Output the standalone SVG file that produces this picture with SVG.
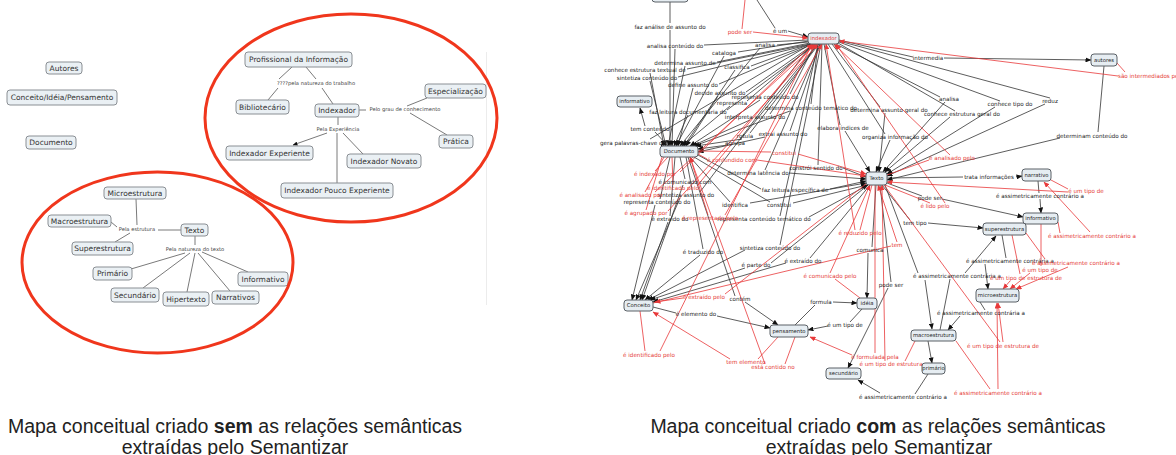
<svg xmlns="http://www.w3.org/2000/svg" width="1176" height="455" viewBox="0 0 1176 455">
<style>
  .bg { fill: #ffffff; }
  .nl rect { fill: #eaf0f4; stroke: #8a8f94; stroke-width: 1; }
  .nl text { font-family: "DejaVu Sans", Verdana, sans-serif; font-size: 7.5px; fill: #333; text-anchor: middle; }
  .nr rect { fill: #e6edf2; stroke: #5a6066; stroke-width: 1; }
  .nr text { font-family: "DejaVu Sans", Verdana, sans-serif; font-size: 5.3px; fill: #222; text-anchor: middle; }
  .nr text.red { fill: #e53935; }
  .ll { fill: none; stroke: #7a7a7a; stroke-width: 1; }
  .tl { font-family: "DejaVu Sans", Verdana, sans-serif; font-size: 5.2px; fill: #444; text-anchor: middle; }
  .lk { fill: none; stroke: #333; stroke-width: 0.8; marker-end: url(#ak); }
  .lr { fill: none; stroke: #e8393a; stroke-width: 0.8; marker-end: url(#ar); }
  .tk { font-family: "DejaVu Sans", Verdana, sans-serif; font-size: 5.6px; fill: #222; text-anchor: middle; }
  .tr { font-family: "DejaVu Sans", Verdana, sans-serif; font-size: 5.6px; fill: #e53935; text-anchor: middle; }
  .ring { fill: none; stroke: #f0361c; stroke-width: 3; }
  .cap { font-family: "Liberation Sans", Arial, sans-serif; font-size: 19.5px; fill: #222; text-anchor: middle; }
</style>
<defs>
  <marker id="ak" markerWidth="6" markerHeight="5" refX="5.5" refY="2.5" orient="auto" markerUnits="userSpaceOnUse">
    <path d="M0,0 L6,2.5 L0,5z" fill="#111"/>
  </marker>
  <marker id="ar" markerWidth="6" markerHeight="5" refX="5.5" refY="2.5" orient="auto" markerUnits="userSpaceOnUse">
    <path d="M0,0 L6,2.5 L0,5z" fill="#e8393a"/>
  </marker>
  <marker id="al" markerWidth="5" markerHeight="4" refX="4.5" refY="2" orient="auto" markerUnits="userSpaceOnUse">
    <path d="M0,0 L5,2 L0,4z" fill="#111"/>
  </marker>
</defs>
<rect class="bg" x="0" y="0" width="1176" height="455"/>

<!-- edge of the left map canvas -->
<line x1="486.5" y1="52" x2="486.5" y2="305" stroke="#ececec" stroke-width="1"/>

<!-- ===== Left map: connectors ===== -->
<g id="left-links">
  <path class="ll" d="M292,67 L279,79 M278,88 L268,100"/>
  <path class="ll" d="M306,67 L316,79 M322,88 L333,104"/>
  <path class="ll" d="M359,110 L366,110 M407,106 L427,98 M410,113 L447,135"/>
  <path class="ll" d="M338,117 L338,125 M337,133 L337,183 M343,133 L363,154"/>
  <path class="ll" d="M327,133 L293,145" marker-end="url(#al)"/>
  <path class="ll" d="M181,230 L158,230 M136,199 L137,225 M111,222 L117,227 M115,242 L130,233"/>
  <path class="ll" d="M195,236 L195,245 M185,253 L131,269 M190,253 L143,288 M195,253 L187,292 M198,253 L230,291 M202,252 L248,272"/>
  <text class="tl" x="316" y="85">????pela natureza do trabalho</text>
  <text class="tl" x="405" y="111">Pelo grau de conhecimento</text>
  <text class="tl" x="338" y="131">Pela Experiência</text>
  <text class="tl" x="137" y="231">Pela estrutura</text>
  <text class="tl" x="195" y="251">Pela natureza do texto</text>
</g>

<!-- ===== Left map: concepts ===== -->
<g id="l-autores" class="nl"><rect x="46" y="62" width="36" height="12" rx="3"/><text x="64" y="70.6">Autores</text></g>
<g id="l-conceito" class="nl"><rect x="7" y="90" width="110" height="15" rx="3"/><text x="62" y="100.1">Conceito/Idéia/Pensamento</text></g>
<g id="l-documento" class="nl"><rect x="26" y="136" width="50" height="13" rx="3"/><text x="51" y="145.1">Documento</text></g>
<g id="l-profissional" class="nl"><rect x="245" y="52" width="107" height="15" rx="3"/><text x="298.5" y="62.1">Profissional da Informação</text></g>
<g id="l-bibliotecario" class="nl"><rect x="236" y="100" width="53" height="14" rx="3"/><text x="262.5" y="109.6">Bibliotecário</text></g>
<g id="l-indexador" class="nl"><rect x="315" y="104" width="44" height="13" rx="3"/><text x="337" y="113.1">Indexador</text></g>
<g id="l-especializacao" class="nl"><rect x="425" y="84" width="61" height="14" rx="3"/><text x="455.5" y="93.6">Especialização</text></g>
<g id="l-pratica" class="nl"><rect x="439" y="135" width="34" height="13" rx="3"/><text x="456" y="144.1">Prática</text></g>
<g id="l-experiente" class="nl"><rect x="226" y="146" width="87" height="14" rx="3"/><text x="269.5" y="155.6">Indexador Experiente</text></g>
<g id="l-novato" class="nl"><rect x="347" y="154" width="74" height="14" rx="3"/><text x="384" y="163.6">Indexador Novato</text></g>
<g id="l-pouco" class="nl"><rect x="281" y="183" width="112" height="15" rx="3"/><text x="337" y="193.1">Indexador Pouco Experiente</text></g>
<g id="l-micro" class="nl"><rect x="104" y="187" width="62" height="12" rx="3"/><text x="135" y="195.6">Microestrutura</text></g>
<g id="l-macro" class="nl"><rect x="48" y="215" width="63" height="12" rx="3"/><text x="79.5" y="223.6">Macroestrutura</text></g>
<g id="l-super" class="nl"><rect x="72" y="242" width="61" height="13" rx="3"/><text x="102.5" y="251.1">Superestrutura</text></g>
<g id="l-texto" class="nl"><rect x="181" y="224" width="27" height="12" rx="3"/><text x="194.5" y="232.6">Texto</text></g>
<g id="l-primario" class="nl"><rect x="93" y="267" width="39" height="13" rx="3"/><text x="112.5" y="276.1">Primário</text></g>
<g id="l-secundario" class="nl"><rect x="111" y="288" width="48" height="14" rx="3"/><text x="135" y="297.6">Secundário</text></g>
<g id="l-hipertexto" class="nl"><rect x="163" y="292" width="46" height="14" rx="3"/><text x="186" y="301.6">Hipertexto</text></g>
<g id="l-narrativos" class="nl"><rect x="212" y="291" width="47" height="13" rx="3"/><text x="235.5" y="300.1">Narrativos</text></g>
<g id="l-informativo" class="nl"><rect x="238" y="272" width="50" height="14" rx="3"/><text x="263" y="281.6">Informativo</text></g>

<!-- highlight rings -->
<ellipse class="ring" cx="351" cy="118" rx="146" ry="104"/>
<ellipse class="ring" cx="157.5" cy="262.5" rx="135.5" ry="90.5"/>

<!-- ===== Right map: connectors ===== -->
<g id="right-links">
  <!-- indexador to Documento -->
  <path class="lk" d="M808,40 L704,45 M675,49 L672,146"/>
  <path class="lk" d="M809,41 L738,52 M724,56 L676,146"/>
  <path class="lk" d="M808,42 L777,45 M760,48 L680,146"/>
  <path class="lk" d="M810,43 L717,62 M685,66 L668,146"/>
  <path class="lk" d="M810,44 L687,69 M650,73 L664,146"/>
  <path class="lk" d="M811,44 L751,66 M735,70 L684,146"/>
  <path class="lk" d="M812,44 L678,77 M650,81 L666,146"/>
  <path class="lk" d="M813,44 L719,84 M693,88 L678,146"/>
  <path class="lk" d="M814,44 L746,92 M718,96 L686,146"/>
  <path class="lk" d="M815,44 L790,94 M760,100 L690,146"/>
  <path class="lk" d="M814,44 L747,101 M730,106 L682,146"/>
  <path class="lk" d="M816,44 L727,110 M688,115 L674,146"/>
  <path class="lk" d="M818,44 L811,104 M790,111 L694,146"/>
  <path class="lk" d="M817,44 L770,114 M750,120 L692,146"/>
  <path class="lk" d="M819,44 L750,133 M742,139 L696,146"/>
  <path class="lk" d="M818,44 L740,140 M728,145 L698,149"/>
  <path class="lk" d="M820,44 L790,131 M765,137 L698,152"/>
  <path class="lk" d="M811,44 L650,139 M666,141 L661,146"/>
  <!-- indexador to Texto -->
  <path class="lk" d="M824,44 L840,125 M845,131 L870,172"/>
  <path class="lk" d="M828,44 L885,134 M890,140 L876,172"/>
  <path class="lk" d="M832,44 L880,107 M885,113 L879,172"/>
  <path class="lk" d="M836,44 L940,97 M945,102 L883,172"/>
  <path class="lk" d="M838,43 L955,111 M950,117 L885,172"/>
  <path class="lk" d="M839,42 L1000,101 M995,107 L887,174"/>
  <path class="lk" d="M839,41 L1050,98 M1045,104 L887,176"/>
  <path class="lk" d="M822,44 L818,165 M843,168 L866,177"/>
  <path class="lk" d="M820,44 L765,170 M789,173 L866,179"/>
  <path class="lk" d="M698,155 L761,189 M830,189 L866,181"/>
  <path class="lk" d="M690,157 L730,202 M750,203 L866,183"/>
  <path class="lk" d="M694,157 L770,202 M793,203 L867,185"/>
  <path class="lk" d="M818,44 L780,216 M809,217 L868,185"/>
  <!-- to Conceito -->
  <path class="lk" d="M821,44 L780,245 M745,250 L648,300"/>
  <path class="lk" d="M686,157 L703,249 M700,255 L645,300"/>
  <path class="lk" d="M868,185 L771,263 M745,268 L650,300"/>
  <path class="lk" d="M870,185 L810,258 M786,263 L653,302"/>
  <path class="lk" d="M675,157 L670,216 M668,222 L640,300"/>
  <path class="lk" d="M812,44 L700,192 M680,198 L636,300"/>
  <path class="lk" d="M670,157 L660,199 M655,205 L632,300"/>
  <path class="lk" d="M680,157 L685,179 M683,185 L642,300"/>
  <!-- pensamento, idéia, secundário -->
  <path class="lk" d="M688,157 L735,296 M745,302 L778,325"/>
  <path class="lk" d="M653,307 L676,313 M717,316 L770,328"/>
  <path class="lk" d="M876,185 L872,247 M868,253 L867,298"/>
  <path class="lk" d="M795,325 L815,305 M833,302 L857,303"/>
  <path class="lk" d="M862,309 L850,322 M828,326 L808,330"/>
  <path class="lk" d="M880,185 L891,282 M888,288 L848,368"/>
  <!-- estruturas -->
  <path class="lk" d="M940,330 L950,279 M965,273 L996,236"/>
  <path class="lk" d="M885,185 L918,273 M925,280 L932,329"/>
  <path class="lk" d="M980,302 L985,310 M960,316 L948,330"/>
  <path class="lk" d="M882,185 L910,220 M928,223 L983,228"/>
  <path class="lk" d="M887,178 L963,177 M1016,177 L1022,176"/>
  <path class="lk" d="M887,183 L922,196 M942,199 L1023,217"/>
  <path class="lk" d="M1038,181 L1039,193 M1040,199 L1041,213"/>
  <path class="lk" d="M1002,235 L1006,258 M985,264 L988,289"/>
  <path class="lk" d="M928,374 L915,394 M880,393 L858,380"/>
  <path class="lk" d="M928,341 L932,363"/>
  <!-- autores and the top of the map -->
  <path class="lk" d="M839,40 L913,57 M944,58 L1091,60"/>
  <path class="lk" d="M1104,66 L1098,132 M1060,138 L887,180"/>
  <path class="lk" d="M670,2 L670,23 M670,30 L670,146"/>
  <path class="lk" d="M757,0 L775,28 M788,31 L808,37"/>
  <path class="lk" d="M668,146 L655,132 M645,126 L640,108"/>

  <!-- inverse relations -->
  <path class="lr" d="M668,157 L655,171 M680,172 L812,44"/>
  <path class="lr" d="M698,154 L707,159 M757,160 L866,176"/>
  <path class="lr" d="M698,151 L771,152 M798,154 L866,174"/>
  <path class="lr" d="M672,157 L673,185 M697,186 L814,44"/>
  <path class="lr" d="M664,157 L645,192 M655,192 L816,44"/>
  <path class="lr" d="M662,157 L646,210 M668,211 L818,44"/>
  <path class="lr" d="M690,157 L708,215 M725,215 L822,44"/>
  <path class="lr" d="M887,175 L929,160 M950,155 L834,44"/>
  <path class="lr" d="M885,185 L930,203 M945,203 L836,44"/>
  <path class="lr" d="M872,185 L860,230 M855,230 L826,44"/>
  <path class="lr" d="M653,303 L891,246 M897,242 L878,185"/>
  <path class="lr" d="M860,298 L835,279 M830,273 L870,185"/>
  <path class="lr" d="M866,184 L725,294 M683,298 L655,302"/>
  <path class="lr" d="M640,311 L645,351 M660,351 L812,44"/>
  <path class="lr" d="M778,337 L758,359 M730,359 L653,312"/>
  <path class="lr" d="M795,337 L785,364 M765,364 L690,157"/>
  <path class="lr" d="M875,185 L875,353 M852,355 L810,337"/>
  <path class="lr" d="M915,341 L905,361 M885,361 L882,185"/>
  <path class="lr" d="M1051,180 L1068,189 M1068,192 L887,182"/>
  <path class="lr" d="M1058,222 L1060,233 M1090,232 L1044,182"/>
  <path class="lr" d="M1026,233 L1045,259 M1068,267 L1016,289"/>
  <path class="lr" d="M1041,224 L1041,266 M1030,273 L1010,289"/>
  <path class="lr" d="M1012,235 L1020,274 M1010,281 L1003,289"/>
  <path class="lr" d="M884,185 L1000,342 M1003,342 L998,303"/>
  <path class="lr" d="M956,341 L990,389 M998,389 L997,303"/>
  <path class="lr" d="M1117,63 L1125,72 M1118,76 L839,41"/>
  <path class="lr" d="M745,0 L742,29 M753,32 L808,38"/>

  <!-- link phrases -->
  <text class="tk" x="670" y="29">faz análise de assunto do</text>
  <text class="tk" x="675" y="48">analisa conteúdo do</text>
  <text class="tk" x="724" y="55">cataloga</text>
  <text class="tk" x="765" y="47">analisa</text>
  <text class="tk" x="685" y="65">determina assunto de</text>
  <text class="tk" x="645" y="72">conhece estrutura textual de</text>
  <text class="tk" x="737" y="69">classifica</text>
  <text class="tk" x="647" y="80">sintetiza conteúdo do</text>
  <text class="tk" x="693" y="87">define assunto do</text>
  <text class="tk" x="720" y="95">decide assunto do</text>
  <text class="tk" x="765" y="99">representa conteúdo do</text>
  <text class="tk" x="732" y="105">representa</text>
  <text class="tk" x="688" y="114">faz leitura documentária do</text>
  <text class="tk" x="811" y="110">determina conteúdo temático do</text>
  <text class="tk" x="755" y="119">interpreta assunto do</text>
  <text class="tk" x="745" y="138">rotula</text>
  <text class="tk" x="735" y="145">agrupa</text>
  <text class="tk" x="783" y="136">extrai assunto do</text>
  <text class="tk" x="633" y="145">gera palavras-chave do</text>
  <text class="tk" x="650" y="131">tem conteúdo</text>
  <text class="tk" x="843" y="130">elabora índices de</text>
  <text class="tk" x="895" y="139">organiza informação do</text>
  <text class="tk" x="889" y="112">determina assunto geral do</text>
  <text class="tk" x="949" y="101">analisa</text>
  <text class="tk" x="962" y="116">conhece estrutura geral do</text>
  <text class="tk" x="1010" y="106">conhece tipo do</text>
  <text class="tk" x="1050" y="103">reduz</text>
  <text class="tk" x="816" y="170">constrói sentido do</text>
  <text class="tk" x="758" y="175">determina latência do</text>
  <text class="tk" x="795" y="192">faz leitura específica de</text>
  <text class="tk" x="735" y="207">identifica</text>
  <text class="tk" x="779" y="207">constitui</text>
  <text class="tk" x="764" y="221">representa conteúdo temático do</text>
  <text class="tk" x="770" y="250">sintetiza conteúdo do</text>
  <text class="tk" x="703" y="254">é traduzido do</text>
  <text class="tk" x="756" y="267">é parte do</text>
  <text class="tk" x="803" y="263">é extraído do</text>
  <text class="tk" x="670" y="221">é extraído do</text>
  <text class="tk" x="686" y="197">sintetiza assunto do</text>
  <text class="tk" x="657" y="204">representa conteúdo do</text>
  <text class="tk" x="685" y="184">é comunicado com</text>
  <text class="tk" x="740" y="301">contém</text>
  <text class="tk" x="696" y="316">é elemento do</text>
  <text class="tk" x="870" y="252">comunica</text>
  <text class="tk" x="821" y="304">formula</text>
  <text class="tk" x="845" y="327">é um tipo de</text>
  <text class="tk" x="891" y="287">pode ser</text>
  <text class="tk" x="957" y="278">é assimetricamente contrária a</text>
  <text class="tk" x="981" y="315">é assimetricamente contrária a</text>
  <text class="tk" x="915" y="225">tem tipo</text>
  <text class="tk" x="989" y="179">trata informações</text>
  <text class="tk" x="930" y="200">pode ser</text>
  <text class="tk" x="1040" y="198">é assimetricamente contrário a</text>
  <text class="tk" x="1010" y="263">é assimetricamente contrária a</text>
  <text class="tk" x="903" y="399">é assimetricamente contrário a</text>
  <text class="tk" x="928" y="60">intermedia</text>
  <text class="tk" x="1092" y="138">determinam conteúdo do</text>
  <text class="tk" x="780" y="33">é um</text>

  <text class="tr" x="740" y="34">pode ser</text>
  <text class="tr" x="1118" y="78" style="text-anchor:start">são intermediados pelo</text>
  <text class="tr" x="655" y="176">é indexado por</text>
  <text class="tr" x="732" y="162">é confundido com</text>
  <text class="tr" x="784" y="155">constitui</text>
  <text class="tr" x="673" y="190">é identificado pelo</text>
  <text class="tr" x="641" y="197">é analisado por</text>
  <text class="tr" x="646" y="215">é agrupado por</text>
  <text class="tr" x="710" y="220">é representado pelo</text>
  <text class="tr" x="952" y="160">é analisado pelo</text>
  <text class="tr" x="935" y="208">é lido pelo</text>
  <text class="tr" x="860" y="235">é reduzido pelo</text>
  <text class="tr" x="897" y="247">tem</text>
  <text class="tr" x="830" y="278">é comunicado pelo</text>
  <text class="tr" x="704" y="299">é extraído pelo</text>
  <text class="tr" x="649" y="357">é identificado pelo</text>
  <text class="tr" x="746" y="364">tem elemento</text>
  <text class="tr" x="773" y="369">está contido no</text>
  <text class="tr" x="875" y="359">é formulada pela</text>
  <text class="tr" x="891" y="366">é um tipo de estrutura</text>
  <text class="tr" x="1086" y="193">é um tipo de</text>
  <text class="tr" x="1092" y="238">é assimetricamente contrário a</text>
  <text class="tr" x="1076" y="265">é assimetricamente contrário a</text>
  <text class="tr" x="1040" y="272">é um tipo de</text>
  <text class="tr" x="1026" y="280">é um tipo de estrutura de</text>
  <text class="tr" x="1003" y="348">é um tipo de estrutura de</text>
  <text class="tr" x="998" y="395">é assimetricamente contrário a</text>
</g>

<!-- ===== Right map: concepts ===== -->
<g id="r-top" class="nr"><rect x="652" y="-12" width="36" height="14" rx="3"/></g>
<g id="r-indexador" class="nr"><rect x="808" y="33" width="31" height="11" rx="3"/><text class="red" x="823.5" y="40.4">indexador</text></g>
<g id="r-autores" class="nr"><rect x="1091" y="54" width="26" height="12" rx="3"/><text x="1104" y="61.9">autores</text></g>
<g id="r-informativo-a" class="nr"><rect x="617" y="96" width="35" height="11" rx="3"/><text x="634.5" y="103.4">informativo</text></g>
<g id="r-documento" class="nr"><rect x="660" y="146" width="38" height="11" rx="3"/><text x="679" y="153.4">Documento</text></g>
<g id="r-texto" class="nr"><rect x="866" y="172" width="21" height="13" rx="3"/><text x="876.5" y="180.4">Texto</text></g>
<g id="r-narrativo" class="nr"><rect x="1022" y="169" width="29" height="12" rx="3"/><text x="1036.5" y="176.9">narrativo</text></g>
<g id="r-informativo-b" class="nr"><rect x="1023" y="213" width="35" height="11" rx="3"/><text x="1040.5" y="220.4">informativo</text></g>
<g id="r-superestrutura" class="nr"><rect x="983" y="223" width="43" height="12" rx="3"/><text x="1004.5" y="230.9">superestrutura</text></g>
<g id="r-microestrutura" class="nr"><rect x="976" y="289" width="43" height="13" rx="3"/><text x="997.5" y="297.4">microestrutura</text></g>
<g id="r-conceito" class="nr"><rect x="624" y="300" width="29" height="11" rx="3"/><text x="638.5" y="307.4">Conceito</text></g>
<g id="r-pensamento" class="nr"><rect x="770" y="325" width="38" height="12" rx="3"/><text x="789" y="332.9">pensamento</text></g>
<g id="r-ideia" class="nr"><rect x="857" y="298" width="20" height="11" rx="3"/><text x="867" y="305.4">idéia</text></g>
<g id="r-macroestrutura" class="nr"><rect x="911" y="330" width="45" height="11" rx="3"/><text x="933.5" y="337.4">macroestrutura</text></g>
<g id="r-primario" class="nr"><rect x="922" y="363" width="23" height="11" rx="3"/><text x="933.5" y="370.4">primário</text></g>
<g id="r-secundario" class="nr"><rect x="826" y="368" width="35" height="11" rx="3"/><text x="843.5" y="375.4">secundário</text></g>

<!-- captions -->
<g id="captions">
  <text class="cap" x="235" y="433">Mapa conceitual criado <tspan font-weight="bold">sem</tspan> as relações semânticas</text>
  <text class="cap" x="235" y="454">extraídas pelo Semantizar</text>
  <text class="cap" x="878" y="433">Mapa conceitual criado <tspan font-weight="bold">com</tspan> as relações semânticas</text>
  <text class="cap" x="879" y="454">extraídas pelo Semantizar</text>
</g>
</svg>
